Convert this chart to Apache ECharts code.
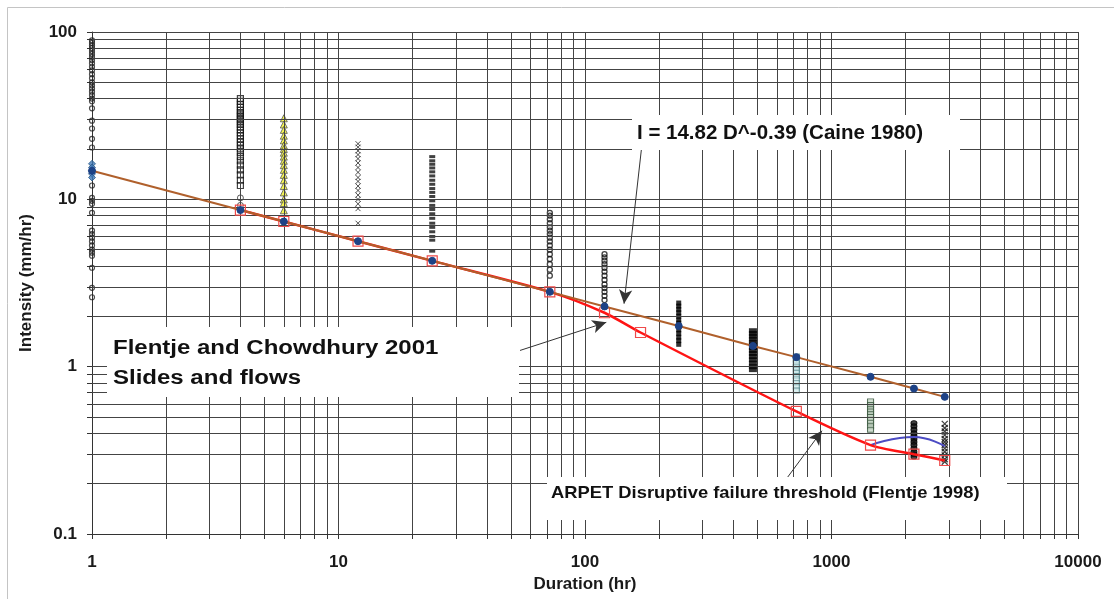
<!DOCTYPE html>
<html>
<head>
<meta charset="utf-8">
<script src="https://cdn.jsdelivr.net/npm/echarts@6/dist/echarts.min.js"></script>
<style>html,body{margin:0;padding:0;background:#fff;}#c{width:1114px;height:599px;}</style>
</head>
<body>
<div id="c"></div>
<script>
// ---- data ----
const xTickLabels = [1, 10, 100, 1000, 10000];
const yTickLabels = [0.1, 1, 10, 100];
const xGridValues = [2,3,4,5,6,7,8,9,10,20,30,40,50,60,70,80,90,100,200,300,400,500,600,700,800,900,1000,2000,3000,4000,5000,6000,7000,8000,9000,10000];
const yGridValues = [0.2,0.3,0.4,0.5,0.6,0.7,0.8,0.9,1,2,3,4,5,6,7,8,9,10,20,30,40,50,60,70,80,90,100];

// Caine (1980) threshold points
const caineD = [1, 4, 6, 12, 24, 72, 120, 240, 480, 720, 1440, 2160, 2880];
const caineI = [14.82, 8.63, 7.37, 5.62, 4.29, 2.80, 2.29, 1.75, 1.33, 1.14, 0.87, 0.74, 0.66];
// ARPET disruptive failure threshold (Flentje 1998)
const arpetD = [4, 6, 12, 24, 72, 120, 168, 720, 1440, 2160, 2880];
const arpetI = [8.63, 7.37, 5.62, 4.29, 2.80, 2.10, 1.60, 0.54, 0.34, 0.30, 0.275];
// blue curve
const blueD = [1440, 2160, 2880];
const blueI = [0.34, 0.38, 0.335];

// rainfall events (Flentje and Chowdhury 2001) by duration
const d1I = [89, 86, 83, 80, 77, 74, 71, 68, 65, 62, 59, 56, 53, 50, 48, 46, 44, 42, 40, 38.5, 35, 29.5, 26.5, 23, 20.4, 12.1, 10.2, 9.8, 9.4, 8.3, 6.5, 6.2, 5.9, 5.6, 5.3, 5.0, 4.8, 4.6, 3.9, 2.96, 2.6];
const d1BlueI = [16.3, 15.5, 14.8, 14.2, 13.5];
const d4I = [40, 38.5, 37, 35.5, 34, 33, 32, 31, 30, 29, 28, 27, 26, 25, 24, 23, 22, 21, 20, 19, 18, 17, 16, 15, 14, 13, 12.1];
const d4CircI = [10.2, 9.2];
const d6I = [30.5, 28, 26, 24, 22.5, 21, 20, 19, 18, 17, 16, 15, 14, 13, 12, 11, 10, 9.5, 8.6];
const d12I = [21.5, 20.5, 19.5, 18.5, 17.5, 16.5, 15.5, 14.5, 13.5, 12.8, 12, 11.3, 10.6, 10, 9.4, 8.8, 7.2];
const d24I = [18, 17, 16.2, 15.4, 14.6, 13.8, 13, 12.3, 11.6, 11, 10.4, 9.8, 9.2, 8.7, 8.2, 7.7, 7.2, 6.8, 6.4, 6.0, 5.7, 4.9];
const d72I = [8.3, 8.0, 7.6, 7.2, 6.8, 6.5, 6.2, 5.9, 5.6, 5.3, 5.0, 4.7, 4.4, 4.1, 3.8, 3.5];
const d120I = [4.7, 4.5, 4.3, 4.1, 3.9, 3.7, 3.5, 3.3, 3.1, 2.95, 2.8, 2.65, 2.5];
const d240I = [2.4, 2.3, 2.2, 2.1, 2.0, 1.9, 1.82, 1.74, 1.66, 1.58, 1.5, 1.43, 1.36];
const d480I = [1.64, 1.58, 1.52, 1.46, 1.40, 1.35, 1.30, 1.25, 1.20, 1.15, 1.10, 1.05, 1.0, 0.96];
const d720I = [1.15, 1.1, 1.05, 1.0, 0.96, 0.92, 0.88, 0.84, 0.80, 0.76, 0.72];
const d1440I = [0.62, 0.59, 0.56, 0.54, 0.52, 0.50, 0.48, 0.46, 0.44, 0.42];
const d2160I = [0.46, 0.44, 0.42, 0.40, 0.385, 0.37, 0.355, 0.34, 0.325, 0.31, 0.30, 0.29];
const d2880I = [0.455, 0.43, 0.41, 0.39, 0.37, 0.355, 0.34, 0.325, 0.31, 0.295, 0.28, 0.27];

// annotation arrows (data space: [duration, intensity])
const arrowCaine = [[170, 20.9], [144, 2.38]];
const arrowFlentje = [[54.5, 1.25], [122, 1.84]];
const arrowArpet = [[630, 0.197], [915, 0.414]];

// ---- build ----
const FONT = '"Liberation Sans", Arial, sans-serif';
const col = (d, arr) => arr.map(v => [d, v]);
const pairs = (xs, ys) => xs.map((x, i) => [x, ys[i]]);
const xMark = 'path://M0,0L10,10M10,0L0,10';
const plain = v => String(+(+v).toPrecision(3));

function scatter(name, data, symbol, size, style, z) {
  return { name, type: 'scatter', data, symbol, symbolSize: size, itemStyle: style, z: z || 3, silent: true, animation: false };
}

const chart = echarts.init(document.getElementById('c'), null, { renderer: 'canvas' });

const option = {
  animation: false,
  backgroundColor: '#fff',
  grid: { left: 92, right: 36, top: 32, bottom: 65 },
  xAxis: {
    type: 'log', logBase: 10, min: 1, max: 10000,
    name: 'Duration (hr)', nameLocation: 'middle', nameGap: 39,
    nameTextStyle: { fontFamily: FONT, fontWeight: 'bold', fontSize: 17, color: '#1a1a1a' },
    axisLine: { show: true, lineStyle: { color: '#333', width: 1 } },
    axisTick: { show: true, length: 5, inside: false, customValues: [1].concat(xGridValues), lineStyle: { color: '#333' } },
    axisLabel: { customValues: xTickLabels, margin: 20, fontFamily: FONT, fontWeight: 'bold', fontSize: 17, color: '#1a1a1a', formatter: plain },
    splitLine: { show: false }, minorTick: { show: false }, minorSplitLine: { show: false }
  },
  yAxis: {
    type: 'log', logBase: 10, min: 0.1, max: 100,
    name: 'Intensity (mm/hr)', nameLocation: 'middle', nameGap: 57,
    nameTextStyle: { fontFamily: FONT, fontWeight: 'bold', fontSize: 17, color: '#1a1a1a' },
    axisLine: { show: true, lineStyle: { color: '#333', width: 1 } },
    axisTick: { show: true, length: 5, inside: false, customValues: [0.1].concat(yGridValues), lineStyle: { color: '#333' } },
    axisLabel: { customValues: yTickLabels, margin: 15, fontFamily: FONT, fontWeight: 'bold', fontSize: 17, color: '#1a1a1a', formatter: plain },
    splitLine: { show: false }, minorTick: { show: false }, minorSplitLine: { show: false }
  },
  graphic: [
    { type: 'rect', shape: { x: 7.5, y: 7.5, width: 1130, height: 620 }, style: { fill: 'none', stroke: '#c4c4c4', lineWidth: 1 }, z: 1, silent: true },
    { type: 'rect', shape: { x: 107, y: 327, width: 412, height: 70 }, style: { fill: '#fff' }, z: 50, silent: true },
    { type: 'text', x: 113, y: 348, scaleX: 1.2, style: { text: 'Flentje and Chowdhury 2001', font: 'bold 20px ' + FONT, fill: '#111', verticalAlign: 'middle', align: 'left' }, z: 51, silent: true },
    { type: 'text', x: 113, y: 378, scaleX: 1.2, style: { text: 'Slides and flows', font: 'bold 20px ' + FONT, fill: '#111', verticalAlign: 'middle', align: 'left' }, z: 51, silent: true },
    { type: 'rect', shape: { x: 632, y: 115, width: 328, height: 35 }, style: { fill: '#fff' }, z: 50, silent: true },
    { type: 'text', x: 637, y: 133, style: { text: 'I = 14.82 D^-0.39 (Caine 1980)', font: 'bold 20.5px ' + FONT, fill: '#111', verticalAlign: 'middle', align: 'left' }, z: 51, silent: true },
    { type: 'rect', shape: { x: 547, y: 477, width: 460, height: 43 }, style: { fill: '#fff' }, z: 50, silent: true },
    { type: 'text', x: 551, y: 493, scaleX: 1.08, style: { text: 'ARPET Disruptive failure threshold (Flentje 1998)', font: 'bold 17px ' + FONT, fill: '#111', verticalAlign: 'middle', align: 'left' }, z: 51, silent: true }
  ],
  series: [
    {
      name: 'grid', type: 'line', data: [[1, 0.1]], symbol: 'none', silent: true, z: 1, lineStyle: { opacity: 0 },
      markLine: {
        silent: true, symbol: ['none', 'none'], animation: false,
        label: { show: false },
        lineStyle: { color: '#444', width: 1, type: 'solid' },
        emphasis: { disabled: true },
        data: xGridValues.map(v => ({ xAxis: v })).concat(yGridValues.map(v => ({ yAxis: v })))
      }
    },
    scatter('d1', col(1, d1I), 'circle', 5, { color: 'rgba(255,255,255,0)', borderColor: '#222', borderWidth: 1.2 }),
    scatter('d1b', col(1, d1BlueI), 'diamond', 7, { color: '#3f78b5', borderColor: '#2a5a8a', borderWidth: 1 }),
    scatter('d4', col(4, d4I), 'rect', 6, { color: 'rgba(255,255,255,0)', borderColor: '#111', borderWidth: 1.2 }),
    scatter('d4c', col(4, d4CircI), 'circle', 6, { color: 'rgba(255,255,255,0)', borderColor: '#333', borderWidth: 1 }),
    scatter('d6', col(6, d6I), 'triangle', 7, { color: '#f2f22a', borderColor: '#555', borderWidth: 1 }),
    scatter('d12', col(12, d12I), xMark, 5, { color: 'rgba(0,0,0,0)', borderColor: '#222', borderWidth: 1 }),
    scatter('d24', col(24, d24I), 'rect', [6, 3], { color: '#111' }),
    scatter('d72', col(72, d72I), 'circle', 5, { color: 'rgba(255,255,255,0)', borderColor: '#111', borderWidth: 1.3 }),
    scatter('d120', col(120, d120I), 'circle', 5, { color: 'rgba(255,255,255,0)', borderColor: '#111', borderWidth: 1.3 }),
    scatter('d240', col(240, d240I), 'rect', [5, 5], { color: '#000' }),
    scatter('d480', col(480, d480I), 'rect', [8, 5], { color: '#000' }),
    scatter('d720', col(720, d720I), 'rect', [6, 5], { color: '#d2ecec', borderColor: '#4d7f86', borderWidth: 1 }),
    scatter('d1440', col(1440, d1440I), 'rect', [6, 5], { color: '#c6d6c6', borderColor: '#34523a', borderWidth: 1 }),
    scatter('d2160', col(2160, d2160I), 'circle', [6, 5], { color: '#111', borderColor: '#000', borderWidth: 1 }),
    scatter('d2880', col(2880, d2880I), xMark, 6, { color: 'rgba(0,0,0,0)', borderColor: '#111', borderWidth: 1.3 }),
    {
      name: 'blue', type: 'line', data: pairs(blueD, blueI), smooth: 0.5, symbol: 'none', z: 4, silent: true,
      lineStyle: { color: '#4c4cc4', width: 2 }
    },
    {
      name: 'ARPET', type: 'line', data: pairs(arpetD, arpetI), smooth: 0.25, z: 5, silent: true,
      symbol: 'rect', symbolSize: 10, showAllSymbol: true,
      itemStyle: { color: 'rgba(255,255,255,0)', borderColor: '#ee4a4a', borderWidth: 1.2 },
      lineStyle: { color: '#ff1414', width: 2.5 }
    },
    {
      name: 'Caine', type: 'line', data: pairs(caineD, caineI), smooth: false, z: 6, silent: true,
      symbol: 'circle', symbolSize: 7, showAllSymbol: true,
      itemStyle: { color: '#1d4286', borderColor: '#1d4286' },
      lineStyle: { color: '#b0602c', width: 2 }
    },
    {
      name: 'arrows', type: 'line', data: [[1, 0.1]], symbol: 'none', silent: true, z: 60, lineStyle: { opacity: 0 },
      markLine: {
        silent: true, animation: false, symbol: ['none', 'arrow'], symbolSize: [10, 14],
        label: { show: false },
        lineStyle: { color: '#333', width: 1, type: 'solid' },
        itemStyle: { color: '#111' },
        emphasis: { disabled: true },
        data: [arrowCaine, arrowFlentje, arrowArpet].map(a => [{ coord: a[0] }, { coord: a[1] }])
      }
    }
  ]
};
chart.setOption(option);
</script>
</body>
</html>
